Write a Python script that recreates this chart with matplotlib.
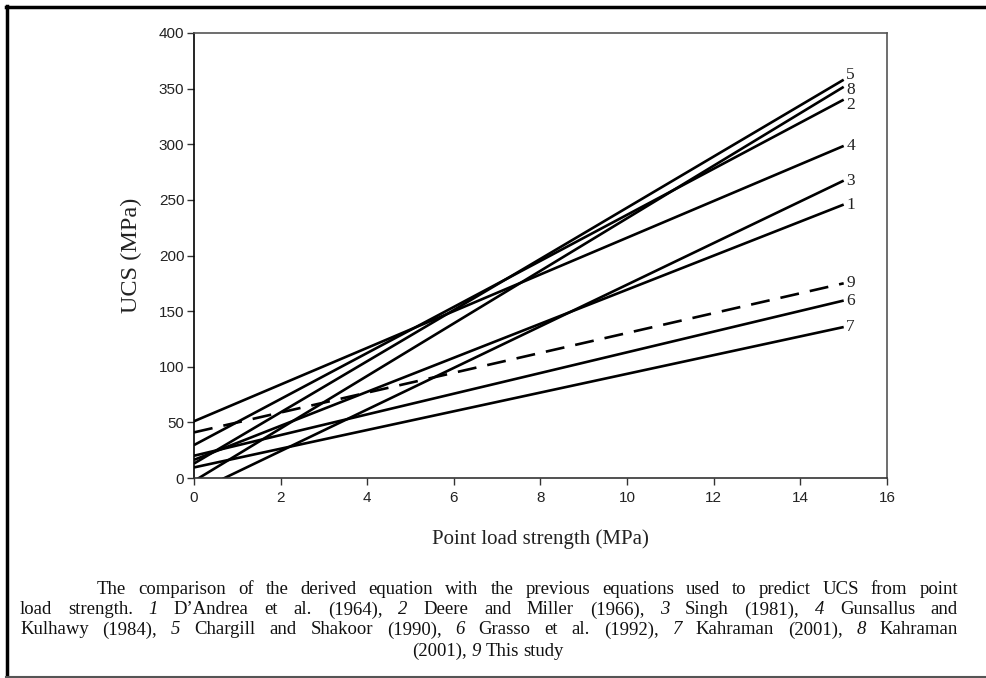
import matplotlib
matplotlib.use("Agg")
import matplotlib.pyplot as plt
from matplotlib.lines import Line2D

# ---- data ----
line_ids = ["1", "2", "3", "4", "5", "6", "7", "8", "9"]
x_start = [0, 0, 0, 0, 0, 0, 0, 0, 0]
x_end = [15, 15, 15, 15, 15, 15, 15, 15, 15]
ucs_start = [16.3, 29.6, -13.2, 51.0, 13.0, 20.0, 9.5, -2.7, 41.0]
ucs_end = [245.8, 340.1, 267.3, 298.5, 358.0, 159.5, 135.7, 351.6, 175.0]
dashed = [False, False, False, False, False, False, False, False, True]
label_offset = [0, -4.8, 0, 0, 4.2, 0, 0, -2.8, 0]

x_ticks = [0, 2, 4, 6, 8, 10, 12, 14, 16]
y_ticks = [0, 50, 100, 150, 200, 250, 300, 350, 400]

caption_lines = [
    "The comparison of the derived equation with the previous equations used to predict UCS from point",
    "load strength. _1 D’Andrea et al. (1964), _2 Deere and Miller (1966), _3 Singh (1981), _4 Gunsallus and",
    "Kulhawy (1984), _5 Chargill and Shakoor (1990), _6 Grasso et al. (1992), _7 Kahraman (2001), _8 Kahraman",
    "(2001), _9 This study",
]

W, H = 987, 678
fig = plt.figure(figsize=(W / 100, H / 100), dpi=100)
ax = fig.add_axes([194 / W, 1 - 478 / H, (887 - 194) / W, (478 - 33) / H])

for xs, xe, ys, ye, d, lab, off in zip(x_start, x_end, ucs_start, ucs_end, dashed, line_ids, label_offset):
    ax.plot([xs, xe], [ys, ye], color="black", lw=1.9,
            linestyle=(0, (7.2, 4.2)) if d else "-", solid_capstyle="butt")
    ax.text(xe + 0.06, ye + off, lab, ha="left", va="center",
            fontsize=12.5, family="Liberation Serif", color="#222222")

ax.set_xlim(0, 16)
ax.set_ylim(0, 400)
ax.set_xticks(x_ticks)
ax.set_yticks(y_ticks)
for lbl in ax.get_xticklabels() + ax.get_yticklabels():
    lbl.set_family("Liberation Sans")
    lbl.set_fontsize(11)
    lbl.set_color("#222222")
ax.tick_params(direction="out", length=5, width=1, color="#333333", pad=2)
ax.tick_params(axis="x", pad=4)
ax.spines["left"].set_color("black")
ax.spines["bottom"].set_color("#333333")
ax.spines["top"].set_color("#555555")
ax.spines["right"].set_color("#555555")
for s in ax.spines.values():
    s.set_linewidth(1.2)

ax.set_xlabel("Point load strength (MPa)", family="Liberation Serif", fontsize=15,
              labelpad=18, color="#222222")
ax.set_ylabel("UCS (MPa)", family="Liberation Serif", fontsize=17.5, labelpad=12,
              color="#222222")

# figure border (top, left, bottom)
fig.add_artist(Line2D([6 / W, 1.0], [1 - 7 / H, 1 - 7 / H], transform=fig.transFigure,
                      color="black", lw=2.5))
fig.add_artist(Line2D([7 / W, 7 / W], [1 - 6 / H, 1 - 676 / H], transform=fig.transFigure,
                      color="black", lw=2.5))
fig.add_artist(Line2D([6 / W, 1.0], [1 - 676.5 / H, 1 - 676.5 / H], transform=fig.transFigure,
                      color="#555555", lw=1.5))

# ---- justified caption ----
fig.canvas.draw()
renderer = fig.canvas.get_renderer()
cap_size = 13.5
line_y = [590, 610, 630, 651]
line_left = [97, 20, 20, None]
line_right = [958, 958, 958, None]


def make_words(line):
    out = []
    for w in line.split(" "):
        if w.startswith("_"):
            out.append((w[1:], True))
        else:
            out.append((w, False))
    return out


for i, line in enumerate(caption_lines):
    words = make_words(line)
    texts = []
    widths = []
    for w, it in words:
        t = fig.text(0, 0, w, fontsize=cap_size, family="Liberation Serif",
                     style="italic" if it else "normal", color="#111111",
                     ha="left", va="center")
        bb = t.get_window_extent(renderer=renderer)
        texts.append(t)
        widths.append(bb.width)
    y = 1 - line_y[i] / H
    if line_left[i] is not None:
        total = sum(widths)
        gap = (line_right[i] - line_left[i] - total) / (len(words) - 1)
        x = line_left[i]
    else:
        sp = fig.text(0, 0, "a a", fontsize=cap_size, family="Liberation Serif")
        sp2 = fig.text(0, 0, "aa", fontsize=cap_size, family="Liberation Serif")
        gap = (sp.get_window_extent(renderer=renderer).width
               - sp2.get_window_extent(renderer=renderer).width)
        sp.remove()
        sp2.remove()
        total = sum(widths) + gap * (len(words) - 1)
        x = 488 - total / 2
    for t, wd in zip(texts, widths):
        t.set_position((x / W, y))
        x += wd + gap

fig.savefig("out.png", dpi=100)
